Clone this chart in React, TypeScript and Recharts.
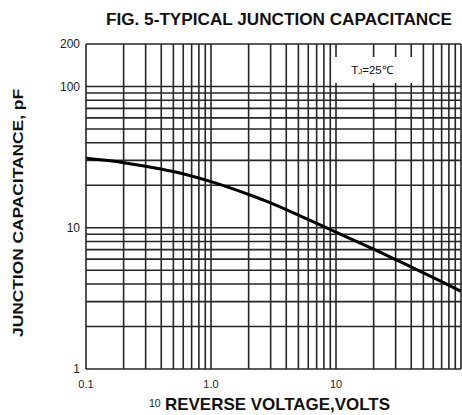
import React from 'react';
import { LineChart, Line, XAxis, YAxis, ReferenceLine } from 'recharts';

// reverse voltage (V) and junction capacitance (pF)
const voltage = [0.1, 0.2, 0.3, 0.5, 1, 2, 3, 5, 10, 20, 30, 50, 70, 100];
const capacitance = [31, 28.9, 27.3, 25, 21.2, 17.2, 15, 12.3, 9.3, 7.05, 5.95, 4.8, 4.15, 3.55];

const xTicks = [0.1, 1, 10];
const yTicks = [1, 10, 100, 200];

const xGrid = [
    0.2, 0.3, 0.4, 0.5, 0.6, 0.7, 0.8, 0.9, 1,
    2, 3, 4, 5, 6, 7, 8, 9, 10,
    20, 30, 40, 50, 60, 70, 80, 90,
];
const yGrid = [
    2, 3, 4, 5, 6, 7, 8, 9, 10,
    20, 30, 40, 50, 60, 70, 80, 90, 100,
];

const data = voltage.map((v, i) => ({ v, c: capacitance[i] }));

const font = '"Liberation Sans", Arial, sans-serif';
const gridColor = '#262626';

const App: React.FC = () => {
    return (
        <div style={{ position: 'relative', width: 462, height: 415, background: '#fff', fontFamily: font }}>
            <style>{'body{margin:0}'}</style>
            <LineChart
                width={462}
                height={415}
                data={data}
                margin={{ top: 44, right: 1, left: 0, bottom: 0 }}
            >
                <XAxis
                    dataKey="v"
                    type="number"
                    scale="log"
                    domain={[0.1, 100]}
                    ticks={xTicks}
                    allowDataOverflow
                    height={46}
                    tickSize={0}
                    tickMargin={11}
                    tickFormatter={(v: number) => (v === 1 ? '1.0' : String(v))}
                    tick={{ fontSize: 11, fill: '#222', fontFamily: font }}
                    axisLine={{ stroke: gridColor, strokeWidth: 1.6 }}
                />
                <YAxis
                    type="number"
                    scale="log"
                    domain={[1, 200]}
                    ticks={yTicks}
                    allowDataOverflow
                    width={86}
                    tickSize={0}
                    tickMargin={6}
                    tick={{ fontSize: 12, fill: '#222', fontFamily: font }}
                    axisLine={{ stroke: gridColor, strokeWidth: 1.6 }}
                />
                {xGrid.map((x) => (
                    <ReferenceLine key={'x' + x} x={x} stroke={gridColor} strokeWidth={1.6} ifOverflow="visible" />
                ))}
                {yGrid.map((y) => (
                    <ReferenceLine key={'y' + y} y={y} stroke={gridColor} strokeWidth={1.6} ifOverflow="visible" />
                ))}
                <ReferenceLine y={200} stroke={gridColor} strokeWidth={1.6} ifOverflow="visible" />
                <ReferenceLine x={100} stroke={gridColor} strokeWidth={1.6} ifOverflow="visible" />
                <Line
                    dataKey="c"
                    type="monotone"
                    stroke="#000"
                    strokeWidth={3}
                    dot={false}
                    isAnimationActive={false}
                />
            </LineChart>
            <svg
                width={462}
                height={415}
                style={{ position: 'absolute', left: 0, top: 0, pointerEvents: 'none' }}
            >
                <text
                    x={106}
                    y={25}
                    fontSize={16}
                    fontWeight="bold"
                    fontFamily={font}
                    fill="#111"
                    textLength={346}
                    lengthAdjust="spacingAndGlyphs"
                >
                    FIG. 5-TYPICAL JUNCTION CAPACITANCE
                </text>
                <text
                    x={23}
                    y={213}
                    transform="rotate(-90, 23, 213)"
                    textAnchor="middle"
                    fontSize={15}
                    fontWeight="bold"
                    fontFamily={font}
                    fill="#111"
                    textLength={248}
                    lengthAdjust="spacingAndGlyphs"
                >
                    JUNCTION CAPACITANCE, pF
                </text>
                <text x={149} y={407} fontSize={10.5} fontFamily={font} fill="#222">
                    10
                </text>
                <text
                    x={165}
                    y={410}
                    fontSize={17}
                    fontWeight="bold"
                    fontFamily={font}
                    fill="#111"
                    textLength={225}
                    lengthAdjust="spacingAndGlyphs"
                >
                    REVERSE VOLTAGE,VOLTS
                </text>
                <rect x={334} y={57} width={84} height={26} fill="#fff" />
                <text x={372} y={74} textAnchor="middle" fontSize={11.5} fontFamily={font} fill="#111">
                    T<tspan fontSize={8}>J</tspan>=25℃
                </text>
            </svg>
        </div>
    );
};

export default App;
